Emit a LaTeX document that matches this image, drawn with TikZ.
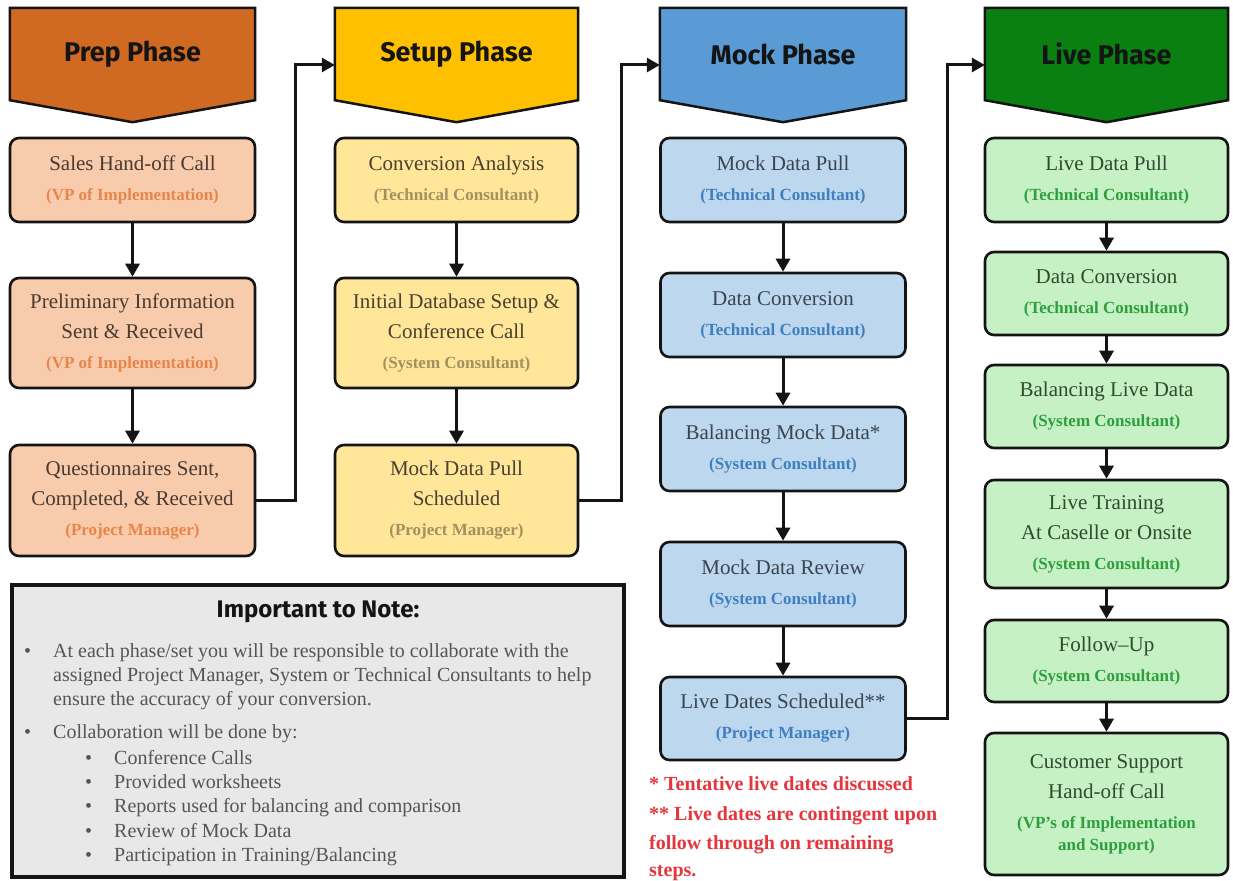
\documentclass[tikz,border=0pt]{standalone}
\usepackage{fontspec}
\setmainfont{Liberation Serif}
\newfontfamily\hdfont{Fira Sans}
\usetikzlibrary{arrows.meta,calc,backgrounds}
\definecolor{prepH}{HTML}{D06A22}
\definecolor{setupH}{HTML}{FFC000}
\definecolor{mockH}{HTML}{5B9BD5}
\definecolor{liveH}{HTML}{0A7F12}
\definecolor{prepB}{HTML}{F8CBAD}
\definecolor{setupB}{HTML}{FFE699}
\definecolor{mockB}{HTML}{BDD7EE}
\definecolor{liveB}{HTML}{C6F1C4}
\definecolor{prepT}{HTML}{4A3A30}
\definecolor{setupT}{HTML}{4A4030}
\definecolor{mockT}{HTML}{3A4450}
\definecolor{liveT}{HTML}{2F4A30}
\definecolor{prepS}{HTML}{E8864A}
\definecolor{setupS}{HTML}{A39060}
\definecolor{mockS}{HTML}{3F7FC0}
\definecolor{liveS}{HTML}{2E9E3E}
\definecolor{noteF}{HTML}{E8E8E8}
\definecolor{noteT}{HTML}{555555}
\definecolor{redT}{HTML}{E5363D}
\definecolor{lineC}{HTML}{141414}
\begin{document}
\begin{tikzpicture}[x=1pt,y=-1pt,
  hdr/.style={minimum height=92pt,inner sep=0pt,font=\hdfont\bfseries\fontsize{27}{30}\selectfont,text=lineC},
  hdrshape/.style={draw=lineC,line width=2.5pt,line join=miter},
  stepbox/.style={draw=lineC,line width=2.6pt,rounded corners=9pt,minimum width=243pt,inner sep=0pt,align=center,font=\fontsize{21}{30}\selectfont},
  arr/.style={draw=lineC,line width=3pt,-{Triangle[length=13pt,width=14pt]}},
  conn/.style={draw=lineC,line width=3pt,line join=miter,-{Triangle[length=13pt,width=14pt]}},
  notebox/.style={draw=lineC,fill=noteF,line width=3.5pt,minimum width=612pt,minimum height=292pt,inner sep=0pt},
  notetxt/.style={anchor=base west,inner sep=0pt,text=noteT,font=\fontsize{20}{24}\selectfont},
  redtxt/.style={anchor=base west,inner sep=0pt,text=redT,font=\bfseries\fontsize{20}{24}\selectfont}
]
\useasboundingbox (0,0) rectangle (1233,880);
\newcommand{\sbt}[1]{{\bfseries\fontsize{17}{20}\selectfont #1}}

% headers
\node[hdr,minimum width=245pt] (hprep) at (132.5,54) {Prep Phase};
\node[hdr,minimum width=243pt] (hsetup) at (456.5,54) {Setup Phase};
\node[hdr,minimum width=246pt] (hmock) at (783,54) {Mock Phase};
\node[hdr,minimum width=243pt] (hlive) at (1106.5,54) {Live Phase};
\begin{scope}[on background layer]
\fill[white] (0,0) rectangle (1233,880);
\foreach \h/\c in {hprep/prepH,hsetup/setupH,hmock/mockH,hlive/liveH}{
  \draw[hdrshape,fill=\c] (\h.north west) -- (\h.north east) -- (\h.south east) -- ($(\h.south)+(0,22)$) -- (\h.south west) -- cycle;
}
\end{scope}

% Prep column
\node[stepbox,fill=prepB,text=prepT,minimum width=245pt,minimum height=84pt] (p1) at (132.5,180) {Sales Hand-off Call\\\textcolor{prepS}{\sbt{(VP of Implementation)}}};
\node[stepbox,fill=prepB,text=prepT,minimum width=245pt,minimum height=110pt] (p2) at (132.5,333) {Preliminary Information\\Sent \& Received\\\textcolor{prepS}{\sbt{(VP of Implementation)}}};
\node[stepbox,fill=prepB,text=prepT,minimum width=245pt,minimum height=111pt] (p3) at (132.5,500.5) {Questionnaires Sent,\\Completed, \& Received\\\textcolor{prepS}{\sbt{(Project Manager)}}};

% Setup column
\node[stepbox,fill=setupB,text=setupT,minimum height=84pt] (s1) at (456.5,180) {Conversion Analysis\\\textcolor{setupS}{\sbt{(Technical Consultant)}}};
\node[stepbox,fill=setupB,text=setupT,minimum height=110pt] (s2) at (456.5,333) {Initial Database Setup \&\\Conference Call\\\textcolor{setupS}{\sbt{(System Consultant)}}};
\node[stepbox,fill=setupB,text=setupT,minimum height=111pt] (s3) at (456.5,500.5) {Mock Data Pull\\Scheduled\\\textcolor{setupS}{\sbt{(Project Manager)}}};

% Mock column
\node[stepbox,fill=mockB,text=mockT,minimum width=245pt,minimum height=84pt] (m1) at (783,180) {Mock Data Pull\\\textcolor{mockS}{\sbt{(Technical Consultant)}}};
\node[stepbox,fill=mockB,text=mockT,minimum width=245pt,minimum height=84pt] (m2) at (783,315) {Data Conversion\\\textcolor{mockS}{\sbt{(Technical Consultant)}}};
\node[stepbox,fill=mockB,text=mockT,minimum width=245pt,minimum height=84pt] (m3) at (783,449) {Balancing Mock Data*\\\textcolor{mockS}{\sbt{(System Consultant)}}};
\node[stepbox,fill=mockB,text=mockT,minimum width=245pt,minimum height=84pt] (m4) at (783,584) {Mock Data Review\\\textcolor{mockS}{\sbt{(System Consultant)}}};
\node[stepbox,fill=mockB,text=mockT,minimum width=245pt,minimum height=83pt] (m5) at (783,718.5) {Live Dates Scheduled**\\\textcolor{mockS}{\sbt{(Project Manager)}}};

% Live column
\node[stepbox,fill=liveB,text=liveT,minimum height=84pt] (l1) at (1106.5,180) {Live Data Pull\\\textcolor{liveS}{\sbt{(Technical Consultant)}}};
\node[stepbox,fill=liveB,text=liveT,minimum height=83pt] (l2) at (1106.5,293.5) {Data Conversion\\\textcolor{liveS}{\sbt{(Technical Consultant)}}};
\node[stepbox,fill=liveB,text=liveT,minimum height=83pt] (l3) at (1106.5,406.5) {Balancing Live Data\\\textcolor{liveS}{\sbt{(System Consultant)}}};
\node[stepbox,fill=liveB,text=liveT,minimum height=108pt] (l4) at (1106.5,534) {Live Training\\At Caselle or Onsite\\\textcolor{liveS}{\sbt{(System Consultant)}}};
\node[stepbox,fill=liveB,text=liveT,minimum height=82pt] (l5) at (1106.5,661) {Follow--Up\\\textcolor{liveS}{\sbt{(System Consultant)}}};
\node[stepbox,fill=liveB,text=liveT,minimum height=142pt] (l6) at (1106.5,804) {Customer Support\\Hand-off Call\\\textcolor{liveS}{\sbt{(VP's of Implementation}}\\[-8pt]\textcolor{liveS}{\sbt{and Support)}}};

% arrows within columns
\draw[arr] (p1) -- (p2);
\draw[arr] (p2) -- (p3);
\draw[arr] (s1) -- (s2);
\draw[arr] (s2) -- (s3);
\draw[arr] (m1) -- (m2);
\draw[arr] (m2) -- (m3);
\draw[arr] (m3) -- (m4);
\draw[arr] (m4) -- (m5);
\draw[arr] (l1) -- (l2);
\draw[arr] (l2) -- (l3);
\draw[arr] (l3) -- (l4);
\draw[arr] (l4) -- (l5);
\draw[arr] (l5) -- (l6);

% phase connectors
\coordinate (ksetup) at ($(hsetup.west)+(0,11)$);
\coordinate (kmock) at ($(hmock.west)+(0,11)$);
\coordinate (klive) at ($(hlive.west)+(0,11)$);
\draw[conn] (p3.east) -- (295,500.5) |- (ksetup);
\draw[conn] (s3.east) -- (621,500.5) |- (kmock);
\draw[conn] (m5.east) -- (947,718.5) |- (klive);

% note box
\node[notebox] (note) at (318,731) {};
\node[text=lineC,font=\hdfont\bfseries\fontsize{24}{28}\selectfont,inner sep=0pt] (ntitle) at (318,612) {Important to Note:};
\node[notetxt] (b1) at (24,657) {•};
\node[notetxt] (n1) at (53,657) {At each phase/set you will be responsible to collaborate with the};
\node[notetxt] (n2) at (53,681) {assigned Project Manager, System or Technical Consultants to help};
\node[notetxt] (n3) at (53,705) {ensure the accuracy of your conversion.};
\node[notetxt] (b2) at (24,738) {•};
\node[notetxt] (n4) at (53,738) {Collaboration will be done by:};
\foreach \t [count=\i] in {Conference Calls,Provided worksheets,Reports used for balancing and comparison,Review of Mock Data,Participation in Training/Balancing}{
  \node[notetxt] (sb\i) at (85,{740+24.3*\i}) {•};
  \node[notetxt] (st\i) at (114,{740+24.3*\i}) {\t};
}

% red notes
\node[redtxt] (r1) at (649,790) {* Tentative live dates discussed};
\node[redtxt] (r2) at (649,820) {** Live dates are contingent upon};
\node[redtxt] (r3) at (649,849) {follow through on remaining};
\node[redtxt] (r4) at (649,876) {steps.};
\end{tikzpicture}
\end{document}
